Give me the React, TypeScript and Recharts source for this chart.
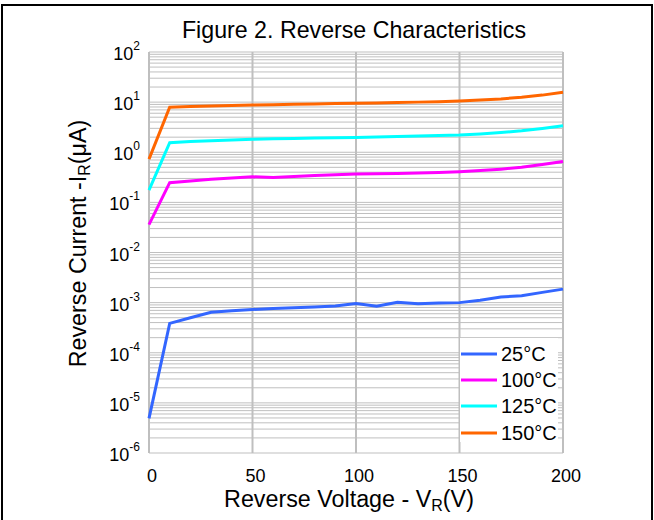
import React from 'react';
import { LineChart, Line, XAxis, YAxis, ReferenceLine, Legend, Customized } from 'recharts';

const FONT = "'Liberation Sans', Arial, Helvetica, sans-serif";
const GRID = '#BFBFBF';

// Reverse voltage (V)
const voltages = [0, 10, 20, 30, 40, 50, 60, 70, 80, 90, 100, 110, 120, 130, 140, 150, 160, 170, 180, 190, 200];
// Reverse current (µA)
const current25 = [4.9e-6, 3.85e-4, 5.0e-4, 6.4e-4, 6.9e-4, 7.3e-4, 7.6e-4, 7.9e-4, 8.2e-4, 8.6e-4, 9.6e-4, 8.5e-4, 1.02e-3, 9.5e-4, 9.8e-4, 1.0e-3, 1.12e-3, 1.3e-3, 1.37e-3, 1.6e-3, 1.86e-3];
const current100 = [0.036, 0.247, 0.266, 0.288, 0.305, 0.324, 0.315, 0.33, 0.345, 0.355, 0.367, 0.372, 0.378, 0.385, 0.395, 0.408, 0.43, 0.46, 0.5, 0.57, 0.657];
const current125 = [0.176, 1.55, 1.63, 1.69, 1.75, 1.81, 1.85, 1.88, 1.92, 1.95, 1.98, 2.02, 2.06, 2.1, 2.15, 2.2, 2.32, 2.48, 2.68, 2.98, 3.38];
const current150 = [0.73, 7.9, 8.15, 8.35, 8.55, 8.75, 8.9, 9.05, 9.2, 9.35, 9.5, 9.65, 9.8, 10.0, 10.2, 10.5, 11.0, 11.6, 12.5, 13.8, 15.7];

const seriesNames = ['25°C', '100°C', '125°C', '150°C'];
const seriesColors = ['#3366FF', '#FF00FF', '#00FFFF', '#FF6600'];

const xTicks = [0, 50, 100, 150, 200];
const yTicks = [1e-6, 1e-5, 1e-4, 1e-3, 1e-2, 1e-1, 1, 10, 100];
const yExponents = ['-6', '-5', '-4', '-3', '-2', '-1', '0', '1', '2'];
const minorMultipliers = [1, 2, 3, 4, 5, 6, 7, 8, 9];
const decades = [1e-6, 1e-5, 1e-4, 1e-3, 1e-2, 1e-1, 1, 10];

const gridValues: number[] = [];
decades.forEach((d) => minorMultipliers.forEach((m) => gridValues.push(d * m)));
gridValues.push(100);

const data = voltages.map((v, i) => ({
  v,
  s25: current25[i],
  s100: current100[i],
  s125: current125[i],
  s150: current150[i],
}));

const XTick = (props: any) => {
  const { x, y, payload } = props;
  return (
    <text x={x + 3} y={y + 21} textAnchor="middle" fontFamily={FONT} fontSize={18} fill="#000">
      {payload.value}
    </text>
  );
};

const YTick = (props: any) => {
  const { x, y, payload } = props;
  const idx = yTicks.findIndex((t) => Math.abs(Math.log10(t) - Math.log10(payload.value)) < 1e-6);
  const exp = idx >= 0 ? yExponents[idx] : '';
  return (
    <text x={x - 1} y={y + 8} textAnchor="end" fontFamily={FONT} fontSize={18} fill="#000">
      <tspan>10</tspan>
      <tspan dy={-10} fontSize={12}>{exp}</tspan>
    </text>
  );
};

const XLabel = (props: any) => {
  const vb = props.viewBox || {};
  const cx = (vb.x || 0) + (vb.width || 0) / 2 - 7;
  return (
    <text x={cx} y={507} textAnchor="middle" fontFamily={FONT} fontSize={23.3} fill="#000">
      <tspan>Reverse Voltage - V</tspan>
      <tspan dy={4} fontSize={16}>R</tspan>
      <tspan dy={-4}>(V)</tspan>
    </text>
  );
};

const YLabel = (props: any) => {
  const vb = props.viewBox || {};
  const cy = (vb.y || 0) + (vb.height || 0) / 2 - 9;
  const bx = 86;
  return (
    <text x={bx} y={cy} transform={`rotate(-90, ${bx}, ${cy})`} textAnchor="middle" fontFamily={FONT} fontSize={23.3} fill="#000">
      <tspan>Reverse Current -I</tspan>
      <tspan dy={4} fontSize={16}>R</tspan>
      <tspan dy={-4}>(μA)</tspan>
    </text>
  );
};

const Title = () => (
  <text x={354} y={38} textAnchor="middle" fontFamily={FONT} fontSize={23.2} fill="#000">
    Figure 2. Reverse Characteristics
  </text>
);

const LegendBox = (props: any) => {
  const payload = [...(props.payload || [])].sort(
    (a: any, b: any) => seriesNames.indexOf(a.value) - seriesNames.indexOf(b.value)
  );
  return (
    <div style={{ background: '#fff', width: 98, height: 104, paddingTop: 3, boxSizing: 'border-box', fontFamily: FONT }}>
      {payload.map((p: any) => (
        <div key={p.value} style={{ display: 'flex', alignItems: 'center', height: 26.2 }}>
          <svg width={38} height={6} style={{ display: 'block' }}>
            <line x1={1} y1={3} x2={37} y2={3} stroke={p.color} strokeWidth={3} />
          </svg>
          <span style={{ fontSize: 20, marginLeft: 3, lineHeight: '26px', color: '#000', whiteSpace: 'nowrap' }}>{p.value}</span>
        </div>
      ))}
    </div>
  );
};

const keys = ['s25', 's100', 's125', 's150'];

export default function App() {
  return (
    <div style={{ position: 'absolute', left: 0, top: 0, width: 654, height: 520, background: '#fff', overflow: 'hidden' }}>
      <LineChart
        width={654}
        height={520}
        data={data}
        margin={{ top: 52, right: 91, bottom: 8, left: 0 }}
      >
        <XAxis
          dataKey="v"
          type="number"
          domain={[0, 200]}
          ticks={xTicks}
          height={59}
          axisLine={false}
          tickLine={false}
          tick={<XTick />}
          label={<XLabel />}
        />
        <YAxis
          type="number"
          scale="log"
          domain={[1e-6, 100]}
          ticks={yTicks}
          width={149}
          axisLine={false}
          tickLine={false}
          allowDataOverflow
          tick={<YTick />}
          label={<YLabel />}
        />
        {gridValues.map((g) => (
          <ReferenceLine key={`h${g}`} y={g} stroke={GRID} strokeWidth={1} ifOverflow="extendDomain" />
        ))}
        {xTicks.map((t) => (
          <ReferenceLine key={`v${t}`} x={t} stroke={GRID} strokeWidth={2} ifOverflow="extendDomain" />
        ))}
        {keys.map((k, i) => (
          <Line
            key={k}
            type="linear"
            dataKey={k}
            name={seriesNames[i]}
            stroke={seriesColors[i]}
            strokeWidth={3}
            dot={false}
            activeDot={false}
            isAnimationActive={false}
          />
        ))}
        <Legend
          layout="vertical"
          align="center"
          verticalAlign="middle"
          content={<LegendBox />}
          wrapperStyle={{ left: 460, top: 338, width: 98, height: 104 }}
        />
        <Customized component={Title} />
      </LineChart>
      <div
        style={{
          position: 'absolute',
          left: 1,
          top: 4,
          width: 648,
          height: 530,
          border: '2px solid #000',
          pointerEvents: 'none',
        }}
      />
    </div>
  );
}
